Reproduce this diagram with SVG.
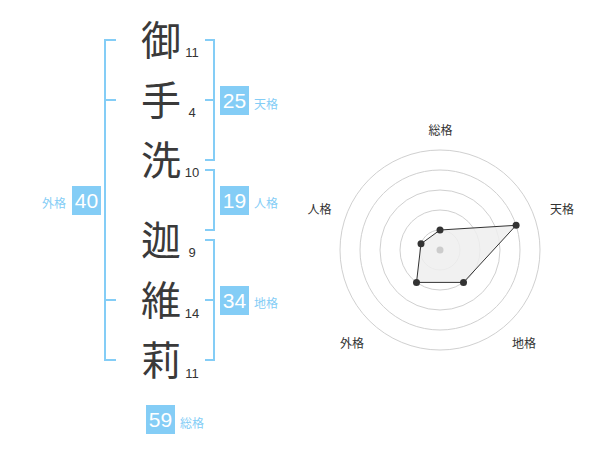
<svg xmlns="http://www.w3.org/2000/svg" width="600" height="470" viewBox="0 0 600 470">
<style>
.ch{font-family:"Noto Sans CJK JP","Noto Sans CJK SC",sans-serif;font-size:40px;fill:#3a3a3a;text-anchor:middle}
.num{font-family:"Liberation Sans",Arial,sans-serif;font-size:13px;fill:#333;text-anchor:middle}
.br{stroke:#84cdf6;stroke-width:2;fill:none}
.box{fill:#84cdf6}
.bn{font-family:"Liberation Sans",Arial,sans-serif;font-size:21px;fill:#fff;text-anchor:middle}
.lb{font-family:"Noto Sans CJK JP","Noto Sans CJK SC",sans-serif;font-size:12px;fill:#84cdf6}
.ring{stroke:#d0d0d0;stroke-width:1;fill:none}
.rl{font-family:"Noto Sans CJK JP","Noto Sans CJK SC",sans-serif;font-size:12px;fill:#333;text-anchor:middle}
.pt{fill:#333}
</style>
<g id="chars">
<g id="c1"><text class="ch" x="161" y="55">御</text><text class="num" x="192" y="57">11</text></g>
<g id="c2"><text class="ch" x="161" y="115">手</text><text class="num" x="192" y="117">4</text></g>
<g id="c3"><text class="ch" x="161" y="175">洗</text><text class="num" x="192" y="177">10</text></g>
<g id="c4"><text class="ch" x="161" y="255">迦</text><text class="num" x="192" y="257">9</text></g>
<g id="c5"><text class="ch" x="161" y="315">維</text><text class="num" x="192" y="318">14</text></g>
<g id="c6"><text class="ch" x="161" y="375">莉</text><text class="num" x="192" y="378">11</text></g>
</g>
<g id="connectors">
<path class="br" d="M116 40H105V360H116M105 100H116M105 300H116"/>
<path class="br" d="M205 40H214V160H205M214 100H205"/>
<path class="br" d="M205 170H214V230H205"/>
<path class="br" d="M205 240H214V360H205M214 300H205"/>
</g>
<g id="tenkaku"><rect class="box" x="220" y="86" width="29" height="29"/><text class="bn" x="234.5" y="108">25</text><text class="lb" x="254" y="109">天格</text></g>
<g id="jinkaku"><rect class="box" x="220" y="186" width="29" height="29"/><text class="bn" x="234.5" y="208">19</text><text class="lb" x="254" y="208">人格</text></g>
<g id="chikaku"><rect class="box" x="220" y="286" width="29" height="29"/><text class="bn" x="234.5" y="308">34</text><text class="lb" x="254" y="308">地格</text></g>
<g id="gaikaku"><rect class="box" x="72" y="186" width="29" height="29"/><text class="bn" x="86.5" y="208">40</text><text class="lb" x="66" y="208" text-anchor="end">外格</text></g>
<g id="soukaku"><rect class="box" x="146" y="405" width="29" height="29"/><text class="bn" x="160.5" y="427">59</text><text class="lb" x="180" y="428">総格</text></g>
<g id="radar">
<circle class="ring" cx="440" cy="250" r="20"/>
<circle class="ring" cx="440" cy="250" r="40"/>
<circle class="ring" cx="440" cy="250" r="60"/>
<circle class="ring" cx="440" cy="250" r="80"/>
<circle class="ring" cx="440" cy="250" r="100"/>
<polygon points="440,230 516.1,225.3 463.5,282.4 416.5,282.4 421,243.8" fill="#eeeeee" fill-opacity="0.85" stroke="#333" stroke-width="1"/>
<circle cx="440" cy="250" r="3.5" fill="#ccc"/>
<circle class="pt" cx="440" cy="230" r="3.5"/>
<circle class="pt" cx="516.1" cy="225.3" r="3.5"/>
<circle class="pt" cx="463.5" cy="282.4" r="3.5"/>
<circle class="pt" cx="416.5" cy="282.4" r="3.5"/>
<circle class="pt" cx="421" cy="243.8" r="3.5"/>
<text class="rl" x="440.5" y="135">総格</text>
<text class="rl" x="562" y="214">天格</text>
<text class="rl" x="524" y="348">地格</text>
<text class="rl" x="352" y="348">外格</text>
<text class="rl" x="319.5" y="214">人格</text>
</g>
</svg>
